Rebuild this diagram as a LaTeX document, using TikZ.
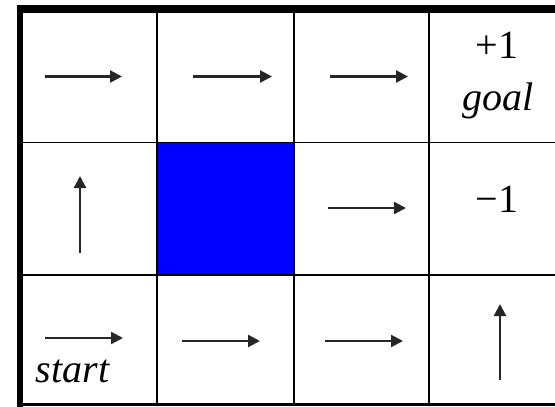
\documentclass[tikz,border=0pt]{standalone}
\usepackage{fontspec}
\setmainfont{Liberation Serif}
\usetikzlibrary{arrows.meta}
\tikzset{
  grid/.style={line width=1.8pt, black},
  frame/.style={black},
  pol/.style={line width=2.3pt, black!85, -{Triangle[length=12pt,width=12pt]}},
  lbl/.style={inner sep=0pt, anchor=base, font=\fontsize{40}{46}\selectfont},
}
\begin{document}
\begin{tikzpicture}[x=1pt,y=-1pt]
\useasboundingbox (0,0) rectangle (555,407);
\fill[white] (0,0) rectangle (555,407);
% blocked cell
\fill[blue] (156.7,142.5) rectangle (294.3,275.3);
% inner grid
\draw[grid] (156.7,9) -- (156.7,405);
\draw[grid] (294.3,9) -- (294.3,405);
\draw[grid] (429.3,9) -- (429.3,405);
\draw[grid] (20,142.5) -- (560,142.5);
\draw[grid] (20,275.3) -- (560,275.3);
% frame
\draw[frame, line width=6pt] (19.7,5) -- (19.7,407);
\draw[frame, line width=8.3pt] (16.7,9.2) -- (560,9.2);
\draw[frame, line width=3.6pt] (16.7,404.6) -- (560,404.6);
% policy arrows
\coordinate (a1s) at (45,76.5);  \coordinate (a1e) at (122,76.5);
\coordinate (a2s) at (193,76.5); \coordinate (a2e) at (272,76.5);
\coordinate (a3s) at (330,76.5); \coordinate (a3e) at (408,76.5);
\coordinate (b1s) at (80,253);   \coordinate (b1e) at (80,176);
\coordinate (b3s) at (328,208);  \coordinate (b3e) at (406,208);
\coordinate (c1s) at (45,338);   \coordinate (c1e) at (123,338);
\coordinate (c2s) at (182,341);  \coordinate (c2e) at (260,341);
\coordinate (c3s) at (325,341);  \coordinate (c3e) at (403,341);
\coordinate (c4s) at (500,380);  \coordinate (c4e) at (500,304);
\draw[pol] (a1s) -- (a1e);
\draw[pol] (a2s) -- (a2e);
\draw[pol] (a3s) -- (a3e);
\draw[pol] (b1s) -- (b1e);
\draw[pol] (b3s) -- (b3e);
\draw[pol] (c1s) -- (c1e);
\draw[pol] (c2s) -- (c2e);
\draw[pol] (c3s) -- (c3e);
\draw[pol] (c4s) -- (c4e);
% labels
\node[lbl] (plus) at (497,58) {+1};
\node[lbl] (goal) at (498,110) {\itshape goal};
\node[lbl] (minus) at (497,212) {−1};
\node[lbl] (start) at (72.5,382.5) {\itshape start};
\end{tikzpicture}
\end{document}
